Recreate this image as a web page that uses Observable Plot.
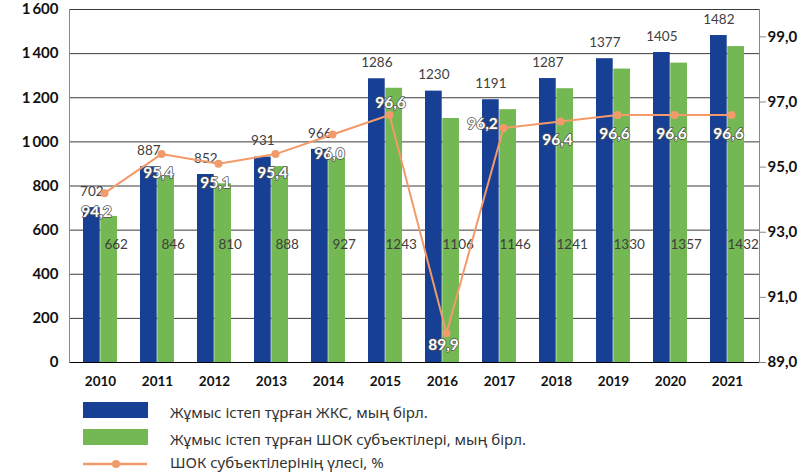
<!DOCTYPE html>
<html><head><meta charset="utf-8">
<script src="https://cdn.jsdelivr.net/npm/d3@7"></script>
<script src="https://cdn.jsdelivr.net/npm/@observablehq/plot@0.6"></script>
<style>
body{margin:0;background:#fff;font-family:Lato,"Noto Sans",sans-serif;}
#wrap{position:relative;width:801px;height:473px;}
#legend{position:absolute;left:0;top:395px;width:801px;height:78px;font-family:"Noto Sans",sans-serif;font-size:15px;color:#333;}
.row{position:absolute;left:0;height:20px;}
.sw{position:absolute;left:83px;width:65px;}
.lt{position:absolute;left:170px;white-space:nowrap;line-height:20px;top:0;}
</style></head><body>
<div id="wrap"><div id="chart"></div><div id="legend"></div></div>
<script>
const years = ["2010","2011","2012","2013","2014","2015","2016","2017","2018","2019","2020","2021"];
const activeZhks = [702, 887, 852, 931, 966, 1286, 1230, 1191, 1287, 1377, 1405, 1482];
const activeShok = [662, 846, 810, 888, 927, 1243, 1106, 1146, 1241, 1330, 1357, 1432];
const shokShare = [94.2, 95.4, 95.1, 95.4, 96.0, 96.6, 89.9, 96.2, 96.4, 96.6, 96.6, 96.6];
const leftTicks = [0, 200, 400, 600, 800, 1000, 1200, 1400, 1600];
const rightTicks = [89, 91, 93, 95, 97, 99];
const seriesNames = [
  "Жұмыс істеп тұрған ЖКС, мың бірл.",
  "Жұмыс істеп тұрған ШОК субъектілері, мың бірл.",
  "ШОК субъектілерінің үлесі, %"
];

const rows = years.map((y, i) => ({year: y, zhks: activeZhks[i], shok: activeShok[i], share: shokShare[i]}));

const W = 801, H = 395, mL = 69, mR = 42, mT = 9, mB = 33;
const pIn = 0.395, pOut = 0.234;
const blue = "#173f93", green = "#73b853", orange = "#f39a6a";
const leftMax = 1600, rMin = 89, rMax = 99.84;
const toLeft = v => (v - rMin) / (rMax - rMin) * leftMax;
const fromLeft = d => d / leftMax * (rMax - rMin) + rMin;
const bw = d3.scaleBand().domain(years).range([mL, W - mR]).paddingInner(pIn).paddingOuter(pOut).bandwidth();
const half = bw / 2;

// placement of percentage labels relative to their point
const pctPlacement = {
  "2010": [-8, 19], "2015": [1, -12], "2016": [-3, 12], "2017": [-21, -4]
};
const defaultPlacement = [-3, 19];
const groups = {};
rows.forEach(r => {
  const p = pctPlacement[r.year] || defaultPlacement;
  const k = p.join(",");
  (groups[k] = groups[k] || {p, rows: []}).rows.push(r);
});
const pctMarks = Object.values(groups).map(g => Plot.text(g.rows, {
  x: "year", y: d => toLeft(d.share), text: d => d.share.toFixed(1).replace(".", ","),
  dx: 4 + g.p[0], dy: g.p[1], fill: "#fff", stroke: "#555", strokeWidth: 1.6, paintOrder: "stroke",
  fontSize: 15.5, fontWeight: "bold"
}));

const chart = Plot.plot({
  width: W, height: H, marginLeft: mL, marginRight: mR, marginTop: mT, marginBottom: mB,
  style: {fontFamily: "Lato, 'Noto Sans', sans-serif", color: "#111", background: "#fff"},
  x: {type: "band", domain: years, paddingInner: pIn, paddingOuter: pOut, label: null},
  y: {domain: [0, leftMax], label: null},
  marks: [
    Plot.gridY(leftTicks, {stroke: "#3a3a3a", strokeOpacity: 1}),
    Plot.barY(rows, {x: "year", y: "zhks", fill: blue, insetRight: half}),
    Plot.barY(rows, {x: "year", y: "shok", fill: green, insetLeft: half}),
    Plot.ruleY([0], {stroke: "#000"}),
    Plot.frame({anchor: "left", stroke: "#888"}),
    Plot.frame({anchor: "right", stroke: "#888"}),
    Plot.axisY({ticks: leftTicks, tickFormat: d => d3.format(",")(d).replace(",", "\u2009"), tickSize: 0, tickPadding: 11, fontSize: 15, fontWeight: "bold", label: null}),
    Plot.axisY(rightTicks.map(toLeft), {anchor: "right", tickFormat: d => fromLeft(d).toFixed(1).replace(".", ","), tickSize: 6, tickPadding: 2, fontSize: 15, fontWeight: "bold", stroke: "#888", label: null}),
    Plot.axisX({tickSize: 0, tickPadding: 14, fontSize: 13.5, fontWeight: "bold", label: null}),
    Plot.text(rows, {x: "year", y: "zhks", text: d => String(d.zhks), dx: -half / 2, dy: -16, fill: "#404040", fontSize: 13.5}),
    Plot.text(rows, {x: "year", text: d => String(d.shok), frameAnchor: "bottom", dy: -114, dx: half / 2 + 7, fill: "#404040", fontSize: 13.5}),
    Plot.line(rows, {x: "year", y: d => toLeft(d.share), stroke: orange, strokeWidth: 2, dx: 4}),
    Plot.dot(rows, {x: "year", y: d => toLeft(d.share), fill: orange, r: 4, dx: 4}),
    ...pctMarks
  ]
});
document.getElementById("chart").appendChild(chart);

// legend
const legend = document.getElementById("legend");
const tops = [7, 34, 57];
const swatches = [blue, green, null];
seriesNames.forEach((name, i) => {
  const row = document.createElement("div");
  row.className = "row";
  row.style.top = tops[i] + "px";
  row.style.width = "801px";
  if (swatches[i]) {
    const sw = document.createElement("div");
    sw.className = "sw";
    sw.style.background = swatches[i];
    sw.style.top = "0px"; sw.style.height = "16px";
    row.appendChild(sw);
  } else {
    const ns = "http://www.w3.org/2000/svg";
    const s = document.createElementNS(ns, "svg");
    s.setAttribute("width", 70); s.setAttribute("height", 20);
    s.style.position = "absolute"; s.style.left = "80px"; s.style.top = "2px";
    const l = document.createElementNS(ns, "line");
    l.setAttribute("x1", 3); l.setAttribute("x2", 67); l.setAttribute("y1", 10); l.setAttribute("y2", 10);
    l.setAttribute("stroke", orange); l.setAttribute("stroke-width", 2.5);
    const c = document.createElementNS(ns, "circle");
    c.setAttribute("cx", 36); c.setAttribute("cy", 10); c.setAttribute("r", 4); c.setAttribute("fill", orange);
    s.appendChild(l); s.appendChild(c);
    row.appendChild(s);
  }
  const t = document.createElement("div");
  t.className = "lt";
  t.textContent = name;
  row.appendChild(t);
  legend.appendChild(row);
});
</script>
</body></html>
